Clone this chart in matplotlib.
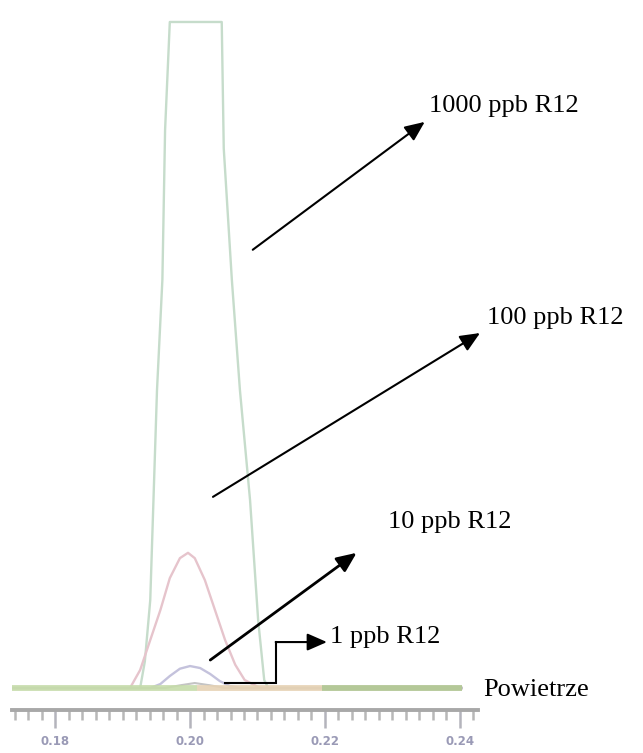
import matplotlib
matplotlib.use("Agg")
import matplotlib.pyplot as plt
from matplotlib.ticker import MultipleLocator

# retention time [min] and detector signal for each R12 standard
t_1000 = [0.1736, 0.1926, 0.1933, 0.1941, 0.1951, 0.1959, 0.1963, 0.1970, 0.2047,
          0.2050, 0.2062, 0.2074, 0.2089, 0.2101, 0.2110, 0.2116, 0.2403]
s_1000 = [0.0, 0.0, 4.0, 13.2, 44.7, 61.3, 83.8, 100.0, 100.0,
          81.0, 61.3, 44.7, 28.2, 10.2, 1.2, 0.0, 0.0]

t_100 = [0.1736, 0.1911, 0.1926, 0.1941, 0.1956, 0.1970, 0.1985, 0.1997, 0.2007, 0.2022, 0.2037, 0.2052, 0.2067, 0.2081, 0.2104, 0.2403]
s_100 = [0.0, 0.0, 2.7, 7.2, 11.7, 16.5, 19.5, 20.3, 19.5, 16.2, 11.7, 7.2, 3.5, 1.2, 0.0, 0.0]

t_10 = [0.1736, 0.1941, 0.1956, 0.1970, 0.1985, 0.2000, 0.2015, 0.2030, 0.2044, 0.2059, 0.2074, 0.2403]
s_10 = [0.0, 0.0, 0.6, 1.8, 2.9, 3.3, 3.0, 2.1, 1.05, 0.3, 0.0, 0.0]

t_1 = [0.1736, 0.1963, 0.1985, 0.2007, 0.2030, 0.2052, 0.2403]
s_1 = [0.0, 0.0, 0.4, 0.75, 0.4, 0.0, 0.0]

t_air = [0.1736, 0.2010, 0.2195, 0.2403]
s_air = [0.0, 0.0, 0.0, 0.0]

tick_labels = ["0.18", "0.20", "0.22", "0.24"]

serif = "Liberation Serif"
fs = 19

fig = plt.figure(figsize=(6.43, 7.53), dpi=100)
ax = fig.add_axes([12 / 643, 43 / 753, 466 / 643, 710 / 753])
ax.set_xlim(0.1736, 0.2427)
ax.set_ylim(-3.3, 103.3)

# chromatograms (pale, as exported from the instrument software)
ax.plot(t_1000, s_1000, color="#c6dccb", lw=1.7, zorder=2)
ax.plot(t_100, s_100, color="#e6c4cc", lw=1.7, zorder=3)
ax.plot(t_10, s_10, color="#c4c2dc", lw=1.7, zorder=4)
ax.plot(t_1, s_1, color="#c4c4c4", lw=1.5, zorder=5)

# air baseline: pale green, warmer in the middle, darker green at the end
ax.plot(t_air[:2], s_air[:2], color="#c6dcaa", lw=4.2, solid_capstyle="butt", zorder=6, alpha=0.9)
ax.plot(t_air[1:3], s_air[1:3], color="#e6d2b4", lw=4.2, solid_capstyle="butt", zorder=6, alpha=0.9)
ax.plot(t_air[2:], s_air[2:], color="#b4c898", lw=4.2, solid_capstyle="butt", zorder=6)

# time axis
for side in ["left", "right", "top"]:
    ax.spines[side].set_visible(False)
ax.spines["bottom"].set_color("#a8a8a8")
ax.spines["bottom"].set_linewidth(2.8)
ax.set_yticks([])
ax.xaxis.set_minor_locator(MultipleLocator(0.002))
ax.set_xticks([0.18, 0.20, 0.22, 0.24])
ax.set_xticklabels(tick_labels)
ax.tick_params(axis="x", which="major", length=13, width=1.8, color="#b4b4bc",
               labelsize=8.5, labelcolor="#9a9ab6", pad=5)
ax.tick_params(axis="x", which="minor", length=7, width=1.8, color="#b8b8b8")
for lbl in ax.get_xticklabels():
    lbl.set_fontweight("bold")

# labels with arrows
arrow = dict(arrowstyle="-|>,head_length=0.8,head_width=0.35", color="black",
             lw=1.5, mutation_scale=15, shrinkA=0, shrinkB=0)

ax.annotate("", xy=(0.2348, 85.0), xytext=(0.2093, 65.8), arrowprops=arrow,
            annotation_clip=False)
ax.text(0.2354, 87.4, "1000 ppb R12", family=serif, fontsize=fs, va="center",
        ha="left", clip_on=False)

ax.annotate("", xy=(0.2430, 53.3), xytext=(0.2034, 28.7), arrowprops=arrow,
            annotation_clip=False)
ax.text(0.2440, 55.6, "100 ppb R12", family=serif, fontsize=fs, va="center",
        ha="left", clip_on=False)

ax.annotate("", xy=(0.2247, 20.3), xytext=(0.2030, 4.2),
            arrowprops=dict(arrow, lw=2.0), annotation_clip=False)
ax.text(0.2293, 24.9, "10 ppb R12", family=serif, fontsize=fs, va="center",
        ha="left", clip_on=False)

ax.plot([0.2052, 0.2127, 0.2127], [0.75, 0.75, 6.9], color="black", lw=1.5,
        zorder=7, solid_joinstyle="miter")
ax.annotate("", xy=(0.2203, 6.9), xytext=(0.2127, 6.9),
            arrowprops=dict(arrow, lw=1.5), annotation_clip=False)
ax.text(0.2207, 7.6, "1 ppb R12", family=serif, fontsize=fs, va="center",
        ha="left", clip_on=False)

ax.text(0.2434, -0.3, "Powietrze", family=serif, fontsize=fs, va="center",
        ha="left", clip_on=False)

fig.savefig("out.png", dpi=100, facecolor="white")
